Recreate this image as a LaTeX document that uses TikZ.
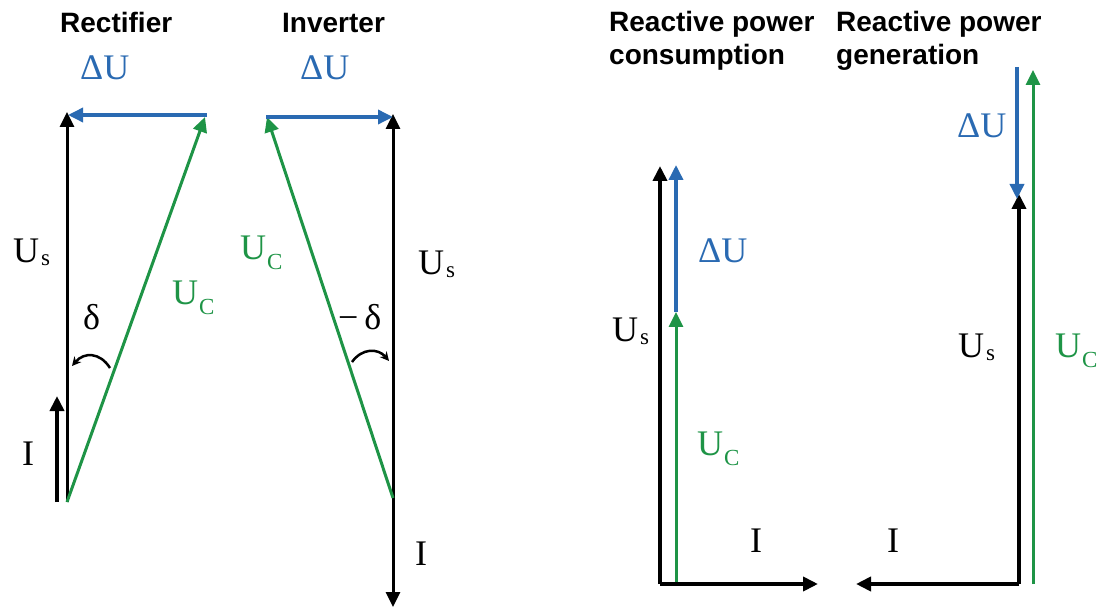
\documentclass[tikz,border=0pt]{standalone}
\usepackage{fontspec}
\setmainfont{Liberation Serif}
\newfontfamily\hdfont{Liberation Sans}
\usetikzlibrary{arrows.meta}
\definecolor{vblue}{HTML}{2A6AB2}
\definecolor{vgreen}{HTML}{1E9446}
\newcommand\lsub[1]{\kern2pt\raisebox{-3pt}{\fontsize{23}{23}\selectfont #1}}
\newcommand\csub[1]{\kern1pt\raisebox{-10pt}{\fontsize{23}{23}\selectfont #1}}
\begin{document}
\begin{tikzpicture}[x=1pt,y=-1pt,
  tip/.style={-{Triangle[length=15pt,width=14pt]}},
  blk/.style={tip,draw=black,line width=3pt},
  blkb/.style={tip,draw=black,line width=4.5pt},
  blu/.style={tip,draw=vblue,line width=3.5pt},
  grn/.style={tip,draw=vgreen,line width=3pt},
  hd/.style={anchor=base west,inner sep=0pt,font=\hdfont\bfseries\fontsize{28}{34}\selectfont},
  lab/.style={anchor=base west,inner sep=0pt,font=\fontsize{36}{40}\selectfont},
  angarc/.style={draw=black,line width=2.5pt,-{Stealth[length=9pt,width=9pt]}}]
\useasboundingbox (0,0) rectangle (1111,609);
% ---------- Rectifier ----------
\coordinate (rO) at (67,502);
\coordinate (rT) at (67,112);
\coordinate (rB) at (68,115);
\coordinate (rC) at (207,115);
\coordinate (rG) at (205,117);
\coordinate (rIb) at (57,502);
\coordinate (rIt) at (57,396);
\draw[blk] (rO) -- (rT);
\draw[blu] (rC) -- (rB);
\draw[grn] (rO) -- (rG);
\draw[blk,line width=4.5pt] (rIb) -- (rIt);
\coordinate (ra1) at (110,368);
\coordinate (ra2) at (72,366);
\draw[angarc] (ra1) .. controls (100,352) and (84,352) .. (ra2);
\node[hd] (rh) at (60,33) {Rectifier};
\node[lab,text=vblue] (rdu) at (80,80) {ΔU};
\node[lab] (rus) at (13,263) {U\lsub{s}};
\node[lab,text=vgreen] (ruc) at (172,305) {U\csub{C}};
\node[lab] (rd) at (83,330) {δ};
\node[lab] (ri) at (22,465) {I};
% ---------- Inverter ----------
\coordinate (iO) at (393,498);
\coordinate (iT) at (393,114);
\coordinate (iC) at (267,117);
\coordinate (iBs) at (266,117);
\coordinate (iBe) at (393,117);
\coordinate (iB) at (393,607);
\draw[blk] (iO) -- (iT);
\draw[blk] (iO) -- (iB);
\draw[grn] (iO) -- (iC);
\draw[blu] (iBs) -- (iBe);
\coordinate (ia1) at (352,362);
\coordinate (ia2) at (389,361);
\draw[angarc] (ia1) .. controls (362,348) and (378,348) .. (ia2);
\node[hd] (ih) at (282,33) {Inverter};
\node[lab,text=vblue] (idu) at (300,80) {ΔU};
\node[lab,text=vgreen] (iuc) at (240,260) {U\csub{C}};
\node[lab] (ius) at (418,275) {U\lsub{s}};
\node[lab] (id) at (338,330) {−\,δ};
\node[lab] (ii) at (415,565) {I};
% ---------- Consumption ----------
\coordinate (cO) at (660,584);
\coordinate (cT) at (660,166);
\coordinate (cR) at (818,584);
\coordinate (cGb) at (676,582);
\coordinate (cGt) at (676,312);
\coordinate (cBt) at (676,165);
\draw[blkb] (cO) -- (cT);
\draw[blkb] (cO) -- (cR);
\draw[blu] (cGt) -- (cBt);
\draw[grn] (cGb) -- (cGt);
\node[hd] (ch1) at (609,32) {Reactive power};
\node[hd] (ch2) at (609,65) {consumption};
\node[lab,text=vblue] (cdu) at (698,263) {ΔU};
\node[lab] (cus) at (612,342) {U\lsub{s}};
\node[lab,text=vgreen] (cuc) at (697,455) {U\csub{C}};
\node[lab] (ci) at (750,552) {I};
% ---------- Generation ----------
\coordinate (gO) at (1019,584);
\coordinate (gT) at (1019,194);
\coordinate (gL) at (856,584);
\coordinate (gBs) at (1017,67);
\coordinate (gBe) at (1017,199);
\coordinate (gGt) at (1033,70);
\coordinate (gGb) at (1033,584);
\draw[blkb] (gO) -- (gT);
\draw[blkb] (gO) -- (gL);
\draw[blu] (gBs) -- (gBe);
\draw[grn] (gGb) -- (gGt);
\node[hd] (gh1) at (836,32) {Reactive power};
\node[hd] (gh2) at (836,65) {generation};
\node[lab,text=vblue] (gdu) at (957,138) {ΔU};
\node[lab] (gus) at (958,358) {U\lsub{s}};
\node[lab,text=vgreen] (guc) at (1055,358) {U\csub{C}};
\node[lab] (gi) at (887,552) {I};
\end{tikzpicture}
\end{document}
